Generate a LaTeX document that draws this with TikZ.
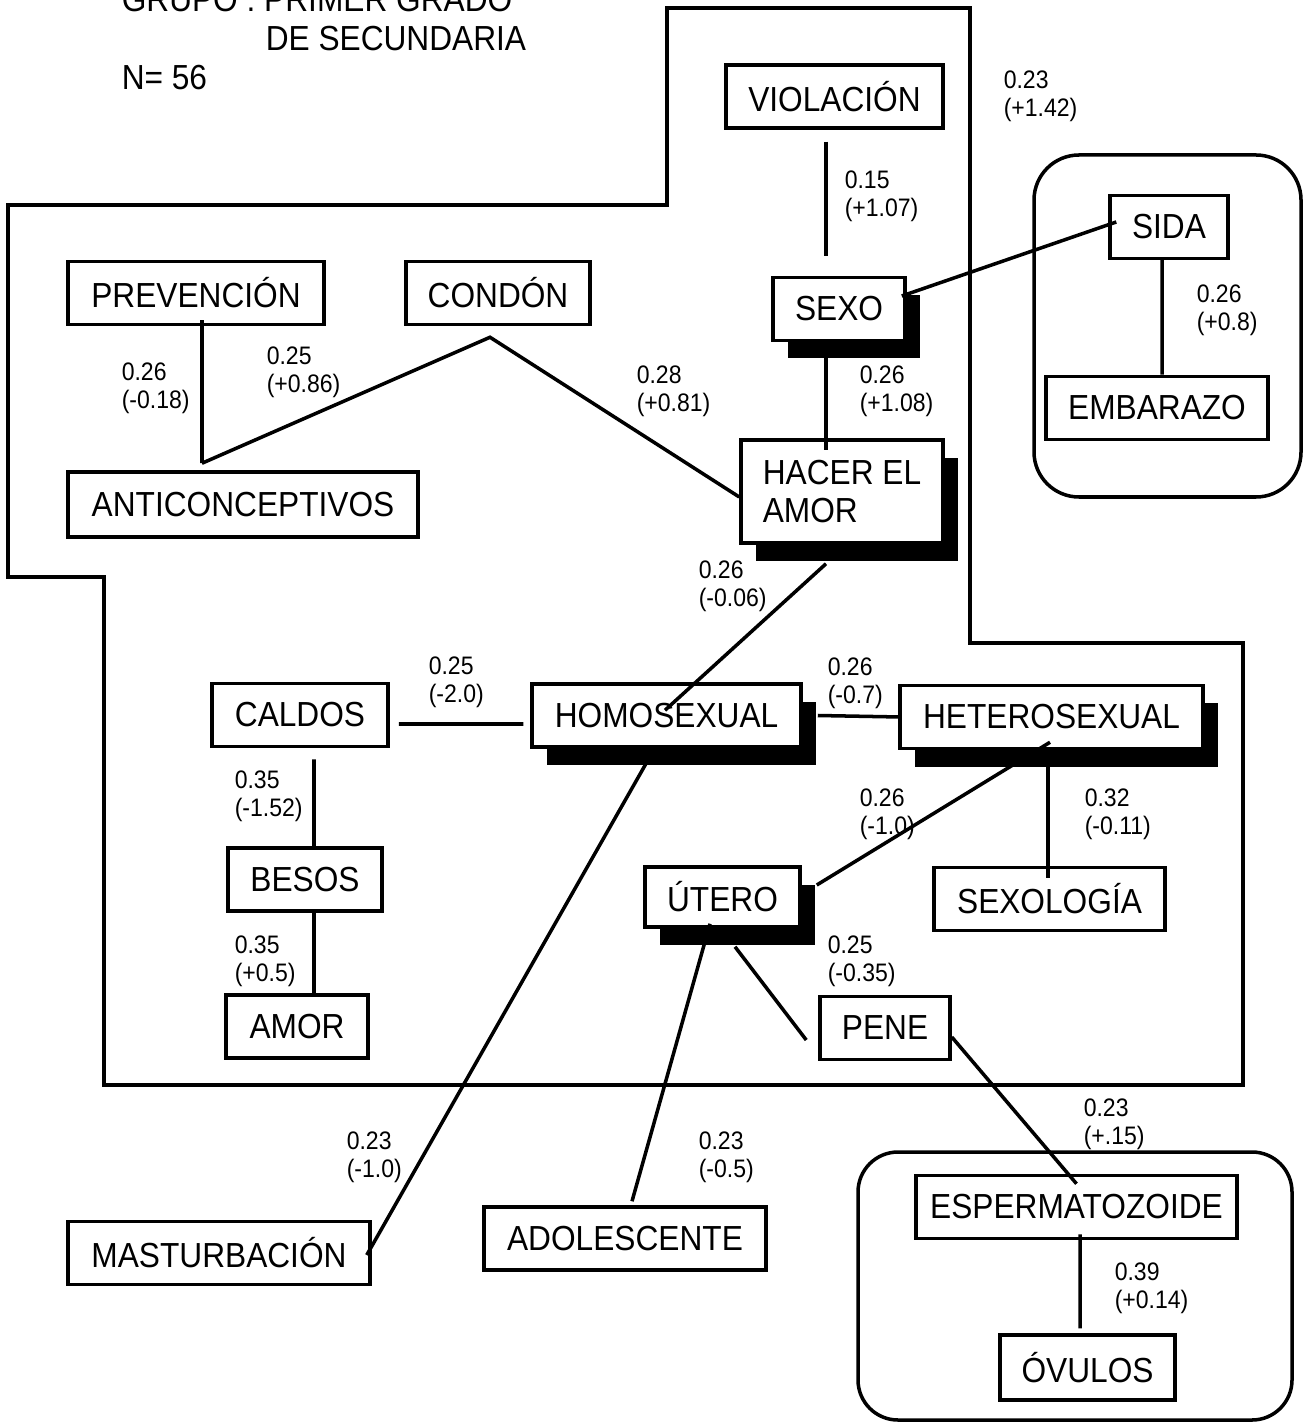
\documentclass[tikz,border=0pt]{standalone}
\usepackage{fontspec}
\setmainfont{Liberation Sans}[FakeStretch=0.91]
\usetikzlibrary{shadows}
\tikzstyle{caja}=[draw,line width=1pt,fill=white,inner sep=2pt,minimum height=0.63cm,font=\fontsize{9.9}{10.8}\selectfont]
\tikzstyle{sombra}=[drop shadow={shadow xshift=0.15cm,shadow yshift=-0.18cm,fill=black,opacity=1}]
\tikzstyle{valor}=[inner sep=0pt,anchor=west,align=left,font=\fontsize{7.2}{8}\selectfont]
\tikzstyle{titulo}=[inner sep=0pt,anchor=west,font=\fontsize{9.9}{12}\selectfont]

\begin{document}
\begin{tikzpicture}[line width=1pt]
\useasboundingbox (0,0) rectangle (13.02,-14.24);
% encabezado
\node[titulo] (grupo) at (1.20,0)      {GRUPO : PRIMER GRADO};
\node[titulo] (secun) at (2.64,-0.39)  {DE SECUNDARIA};
\node[titulo] (num)   at (1.20,-0.78)  {N= 56};
% contornos
\draw (6.67,-0.08) -- (9.70,-0.08) -- (9.70,-6.43) -- (12.43,-6.43) -- (12.43,-10.85)
      -- (1.04,-10.85) -- (1.04,-5.77) -- (0.08,-5.77) -- (0.08,-2.05) -- (6.67,-2.05) -- cycle;
\draw[rounded corners=0.45cm] (10.34,-1.55) rectangle (13.01,-4.97);
\draw[rounded corners=0.4cm]  (8.58,-11.52) rectangle (12.92,-14.20);
% conceptos
\node[caja,minimum width=2.17cm]        (violacion)       at (8.345,-0.965) {VIOLACIÓN};
\node[caja,minimum width=1.18cm]        (sida)            at (11.69,-2.27)  {SIDA};
\node[caja,minimum width=2.56cm]        (prevencion)      at (1.96,-2.93)   {PREVENCIÓN};
\node[caja,minimum width=1.84cm]        (condon)          at (4.98,-2.93)   {CONDÓN};
\node[caja,sombra,minimum width=1.32cm] (sexo)            at (8.39,-3.09)   {SEXO};
\node[caja,minimum width=2.22cm]        (embarazo)        at (11.57,-4.08)  {EMBARAZO};
\node[caja,minimum width=3.50cm,minimum height=0.65cm] (anticonceptivos) at (2.43,-5.045) {ANTICONCEPTIVOS};
\node[caja,sombra,align=left,minimum width=2.02cm,minimum height=1.03cm] (hacer) at (8.42,-4.915) {HACER EL\\AMOR};
\node[caja,minimum width=1.76cm]        (caldos)          at (3.00,-7.15)   {CALDOS};
\node[caja,sombra,minimum width=2.69cm] (homosexual)      at (6.665,-7.155) {HOMOSEXUAL};
\node[caja,sombra,minimum width=3.03cm] (heterosexual)    at (10.515,-7.17) {HETEROSEXUAL};
\node[caja,minimum width=1.54cm]        (besos)           at (3.05,-8.795)  {BESOS};
\node[caja,sombra,minimum width=1.55cm,minimum height=0.60cm] (utero) at (7.225,-8.97) {ÚTERO};
\node[caja,minimum width=2.31cm]        (sexologia)       at (10.495,-8.99) {SEXOLOGÍA};
\node[caja,minimum width=1.42cm]        (amor)            at (2.97,-10.265) {AMOR};
\node[caja,minimum width=1.30cm]        (pene)            at (8.85,-10.28)  {PENE};
\node[caja,minimum width=3.02cm]        (masturbacion)    at (2.19,-12.53)  {MASTURBACIÓN};
\node[caja,minimum width=2.82cm]        (adolescente)     at (6.25,-12.385) {ADOLESCENTE};
\node[caja,minimum width=3.21cm]        (espermatozoide)  at (10.765,-12.07) {ESPERMATOZOIDE};
\node[caja,minimum width=1.75cm,minimum height=0.65cm] (ovulos) at (10.875,-13.675) {ÓVULOS};
% uniones
\coordinate (junta) at ([xshift=-0.41cm,yshift=0.07cm]anticonceptivos.north);
\coordinate (vertice) at ([xshift=-0.08cm,yshift=-0.11cm]condon.south);
\draw ([xshift=-0.085cm,yshift=-0.12cm]violacion.south) -- ([xshift=-0.13cm,yshift=0.2cm]sexo.north);
\draw ([xshift=-0.05cm,yshift=0.13cm]sexo.east) -- ([xshift=0.08cm,yshift=0.05cm]sida.west);
\draw ([xshift=-0.07cm]sida.south) -- ([xshift=0.05cm]embarazo.north);
\draw ([xshift=0.06cm,yshift=0.06cm]prevencion.south) -- (junta);
\draw (junta) -- (vertice) -- ([yshift=-0.055cm]hacer.west);
\draw ([xshift=-0.13cm,yshift=0.03cm]sexo.south) -- ([xshift=-0.16cm,yshift=-0.12cm]hacer.north);
\draw ([xshift=-0.16cm,yshift=-0.19cm]hacer.south) -- ([xshift=-0.015cm,yshift=-0.28cm]homosexual.north);
\draw ([xshift=0.09cm,yshift=-0.09cm]caldos.east) -- ([xshift=-0.07cm,yshift=-0.085cm]homosexual.west);
\draw ([xshift=0.15cm]homosexual.east) -- ([xshift=0.02cm]heterosexual.west);
\draw ([xshift=-0.115cm,yshift=0.01cm]homosexual.south) -- ([xshift=-0.05cm,yshift=-0.02cm]masturbacion.east);
\draw ([xshift=0.14cm,yshift=-0.11cm]caldos.south) -- ([xshift=0.09cm]besos.north);
\draw ([xshift=0.09cm]besos.south) -- ([xshift=0.17cm]amor.north);
\draw ([xshift=-0.015cm,yshift=0.08cm]heterosexual.south) -- ([xshift=0.15cm,yshift=0.12cm]utero.east);
\draw ([xshift=-0.035cm]heterosexual.south) -- ([xshift=-0.015cm,yshift=-0.12cm]sexologia.north);
\draw ([xshift=0.125cm,yshift=-0.18cm]utero.south) -- ([xshift=-0.12cm,yshift=-0.12cm]pene.west);
\draw ([xshift=-0.125cm,yshift=0.05cm]utero.south) -- ([xshift=0.07cm,yshift=0.04cm]adolescente.north);
\draw ([yshift=-0.09cm]pene.east) -- ([yshift=-0.10cm]espermatozoide.north);
\draw ([xshift=0.035cm,yshift=0.06cm]espermatozoide.south) -- ([xshift=-0.075cm,yshift=0.05cm]ovulos.north);
% valores
\node[valor] (v1)  at (10.02,-0.965) {0.23\\(+1.42)};
\node[valor] (v2)  at (8.43,-1.96)   {0.15\\(+1.07)};
\node[valor] (v3)  at (11.95,-3.10)  {0.26\\(+0.8)};
\node[valor] (v4)  at (1.20,-3.88)   {0.26\\(-0.18)};
\node[valor] (v5)  at (2.65,-3.72)   {0.25\\(+0.86)};
\node[valor] (v6)  at (6.35,-3.91)   {0.28\\(+0.81)};
\node[valor] (v7)  at (8.58,-3.91)   {0.26\\(+1.08)};
\node[valor] (v8)  at (6.97,-5.86)   {0.26\\(-0.06)};
\node[valor] (v9)  at (4.27,-6.82)   {0.25\\(-2.0)};
\node[valor] (v10) at (8.26,-6.83)   {0.26\\(-0.7)};
\node[valor] (v11) at (2.33,-7.96)   {0.35\\(-1.52)};
\node[valor] (v12) at (8.58,-8.14)   {0.26\\(-1.0)};
\node[valor] (v13) at (10.83,-8.14)  {0.32\\(-0.11)};
\node[valor] (v14) at (2.33,-9.61)   {0.35\\(+0.5)};
\node[valor] (v15) at (8.26,-9.61)   {0.25\\(-0.35)};
\node[valor] (v16) at (10.82,-11.24) {0.23\\(+.15)};
\node[valor] (v17) at (3.45,-11.57)  {0.23\\(-1.0)};
\node[valor] (v18) at (6.97,-11.57)  {0.23\\(-0.5)};
\node[valor] (v19) at (11.13,-12.88) {0.39\\(+0.14)};
\end{tikzpicture}
\end{document}
